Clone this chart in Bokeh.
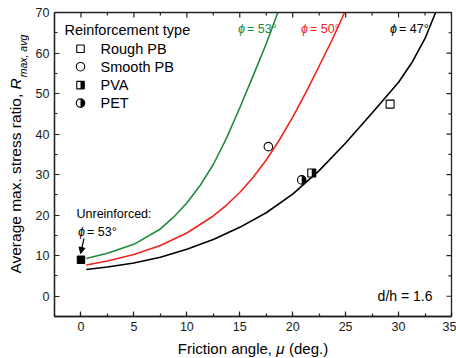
from math import pi
from bokeh.plotting import figure
from bokeh.layouts import row, column
from bokeh.models import (Range1d, LinearAxis, SingleIntervalTicker, Label,
                          Arrow, NormalHead, ColumnDataSource)
from bokeh.transform import dodge
from bokeh.embed import file_html
from bokeh.resources import INLINE

# ---------------- data ----------------
mu_47 = [0.5, 2.5, 5, 7.5, 10, 12.5, 15, 17.5, 20, 22.5, 25, 27.5, 30, 31.25, 32.5, 33.5]
R_47 = [6.6, 7.2, 8.2, 9.6, 11.6, 14.0, 17.0, 20.6, 25.2, 31.0, 37.8, 45.2, 52.8, 57.6, 63.6, 70.0]
mu_50 = [0.5, 2.5, 5, 7.5, 10, 12.5, 13.75, 15, 16.25, 17.5, 18.75, 20, 21.25, 22.5, 23.75, 24.9]
R_50 = [7.7, 8.7, 10.3, 12.5, 15.6, 19.8, 22.5, 25.6, 29.3, 33.6, 38.6, 44.2, 50.3, 56.8, 63.4, 70.0]
mu_53 = [0.5, 2.5, 5, 7.5, 8.75, 10, 11.25, 12.5, 13.75, 15, 16.25, 17.5, 18.6]
R_53 = [9.3, 10.6, 12.8, 16.6, 19.5, 23.0, 27.3, 32.5, 39.0, 46.5, 54.3, 62.3, 70.0]

types = ["Rough PB", "Smooth PB", "PVA", "PET"]
mu_pts = [29.2, 17.7, 21.8, 20.85]
R_pts = [47.4, 36.9, 30.4, 28.7]
mu_unreinf = [0.0]
R_unreinf = [9.0]

x_ticks = [0, 5, 10, 15, 20, 25, 30, 35]
y_ticks = [0, 10, 20, 30, 40, 50, 60, 70]
X_LO, X_HI = -2.5, 35
Y_LO, Y_HI = -5, 70

GREEN = "#1e8b3c"
RED = "#f0241c"
AXC = "#222222"
FONT = "Liberation Sans"

# ---------------- layout ----------------
WIN_W, WIN_H = 456, 358
WL = 30                 # width of the y-title strip
HB = 20                 # height of the x-title strip
MW, MH = WIN_W - WL, WIN_H - HB
BL, BT = 24, 12
FW, FH = 397, 304
BR, BB = MW - BL - FW, MH - BT - FH
PAGE_L, PAGE_B = WL + BL, BT + FH
STRIP_DY = 17.5         # measured vertical offset of the y-title strip in the row


def sx(px):
    return px - PAGE_L


def sy(py):
    return PAGE_B - py


AW = {' ': 278, 'A': 667, 'v': 500, 'e': 556, 'r': 333, 'a': 556, 'g': 556, 'm': 833,
      'x': 500, '.': 278, 's': 500, 't': 278, 'i': 222, 'o': 556, ',': 278, 'R': 722,
      'F': 611, 'c': 500, 'n': 556, 'l': 222, '(': 333, ')': 333, 'd': 556, 'μ': 576}


def tw(s, size):
    return sum(AW.get(c, 556) for c in s) * size / 1000.0


p = figure(width=MW, height=MH, x_range=Range1d(X_LO, X_HI), y_range=Range1d(Y_LO, Y_HI),
           output_backend="svg", toolbar_location=None,
           x_axis_type=None, y_axis_type=None,
           min_border_left=BL, min_border_right=BR, min_border_top=BT, min_border_bottom=BB)
p.outline_line_color = AXC
p.outline_line_width = 1.3
p.background_fill_color = "white"
p.border_fill_color = "white"
p.extra_x_ranges = {"px": Range1d(0, FW)}
p.extra_y_ranges = {"py": Range1d(0, FH)}


def make_axis(interval):
    ax = LinearAxis(ticker=SingleIntervalTicker(interval=interval, num_minor_ticks=2))
    ax.axis_line_width = 1.3
    ax.axis_line_color = AXC
    ax.major_tick_line_color = AXC
    ax.minor_tick_line_color = AXC
    ax.major_tick_line_width = 1.2
    ax.minor_tick_line_width = 1.2
    ax.major_tick_in = 5
    ax.major_tick_out = 0
    ax.minor_tick_in = 3
    ax.minor_tick_out = 0
    ax.major_label_text_font = FONT
    ax.major_label_text_font_size = "12.5px"
    ax.major_label_text_color = "#1a1a1a"
    ax.major_label_standoff = 5
    return ax


p.add_layout(make_axis(5), "below")
p.add_layout(make_axis(10), "left")

# mirrored ticks on the top and right edges (half of each dash is clipped by the frame)
x_minor = [(a + b) / 2 for a, b in zip(x_ticks[:-1], x_ticks[1:])]
y_minor = [(a + b) / 2 for a, b in zip(y_ticks[:-1], y_ticks[1:])]
p.scatter(x_ticks, [Y_HI] * len(x_ticks), marker="dash", angle=pi / 2, size=10,
          line_color=AXC, line_width=1.2)
p.scatter(x_minor, [Y_HI] * len(x_minor), marker="dash", angle=pi / 2, size=6,
          line_color=AXC, line_width=1.2)
p.scatter([X_HI] * len(y_ticks), y_ticks, marker="dash", size=10,
          line_color=AXC, line_width=1.2)
p.scatter([X_HI] * len(y_minor), y_minor, marker="dash", size=6,
          line_color=AXC, line_width=1.2)

# ---------------- curves ----------------
p.line(mu_53, R_53, line_color=GREEN, line_width=1.6)
p.line(mu_50, R_50, line_color=RED, line_width=1.6)
p.line(mu_47, R_47, line_color="black", line_width=1.6)

# ---------------- data points ----------------
p.scatter(mu_pts[0:1], R_pts[0:1], marker="square", size=8, fill_color="white",
          line_color="black", line_width=1.1)
p.scatter(mu_pts[1:2], R_pts[1:2], marker="circle", size=8.5, fill_color="white",
          line_color="black", line_width=1.1)
pva = ColumnDataSource(dict(x=mu_pts[2:3], y=R_pts[2:3]))
p.scatter("x", "y", source=pva, marker="square", size=8, fill_color="white",
          line_color="black", line_width=1.1)
p.rect(x=dodge("x", 2.0 * (X_HI - X_LO) / FW), y="y", source=pva, width=4, height=8,
       width_units="screen", height_units="screen", fill_color="black", line_color=None)
p.scatter(mu_pts[3:4], R_pts[3:4], marker="circle", size=8.5, fill_color="white",
          line_color="black", line_width=1.1)
p.wedge(mu_pts[3:4], R_pts[3:4], radius=4.25, radius_units="screen",
        start_angle=-pi / 2, end_angle=pi / 2, fill_color="black", line_color=None)
p.scatter(mu_unreinf, R_unreinf, marker="square", size=7.5, fill_color="black",
          line_color="black")

# ---------------- legend (manual) ----------------
leg_x = sx(80)
leg_rows = [sy(48.3), sy(66.2), sy(84.6), sy(102.6)]
p.scatter([leg_x], [leg_rows[0]], x_range_name="px", y_range_name="py", marker="square",
          size=7.5, fill_color="white", line_color="black", line_width=1.1)
p.scatter([leg_x], [leg_rows[1]], x_range_name="px", y_range_name="py", marker="circle",
          size=8.5, fill_color="white", line_color="black", line_width=1.1)
p.scatter([leg_x], [leg_rows[2]], x_range_name="px", y_range_name="py", marker="square",
          size=7.5, fill_color="white", line_color="black", line_width=1.1)
p.rect([leg_x + 1.9], [leg_rows[2]], width=3.8, height=7.5, x_range_name="px",
       y_range_name="py", fill_color="black", line_color=None)
p.scatter([leg_x], [leg_rows[3]], x_range_name="px", y_range_name="py", marker="circle",
          size=8.5, fill_color="white", line_color="black", line_width=1.1)
p.wedge([leg_x], [leg_rows[3]], radius=4.25, radius_units="screen",
        x_range_name="px", y_range_name="py",
        start_angle=-pi / 2, end_angle=pi / 2, fill_color="black", line_color=None)


def lab(fig, text, x, y, size, color="black", align="left", baseline="middle",
        style="normal", angle=0.0):
    fig.add_layout(Label(text=text, x=x, y=y, x_units="screen", y_units="screen",
                         text_font=FONT, text_font_size=size, text_color=color,
                         text_align=align, text_baseline=baseline,
                         text_font_style=style, angle=angle))


lab(p, "Reinforcement type", sx(64), sy(29.3), "14.5px")
for name, yy in zip(types, leg_rows):
    lab(p, name, sx(100), yy, "14.5px")

# ---------------- curve labels ----------------
for xsep, col, txt in [(244.5, GREEN, "= 53°"), (307.5, RED, "= 50°"), (396.5, "black", "= 47°")]:
    lab(p, "ϕ", sx(xsep), sy(28), "12.5px", color=col, align="right", style="italic")
    lab(p, txt, sx(xsep + 2), sy(28), "12.5px", color=col)

lab(p, "Unreinforced:", sx(76), sy(213), "12.5px")
lab(p, "ϕ", sx(84.5), sy(231), "12.5px", align="right", style="italic")
lab(p, "= 53°", sx(86.5), sy(231), "12.5px")
p.add_layout(Arrow(end=NormalHead(size=6, fill_color="black", line_color="black", line_width=1),
                   x_start=sx(83.5), y_start=sy(238), x_end=sx(80.2), y_end=sy(253),
                   start_units="screen", end_units="screen", line_width=1.2, line_color="black"))

lab(p, "d/h = 1.6", sx(432), sy(295.5), "14px", align="right")


def strip(w, h):
    f = figure(width=w, height=h, x_range=Range1d(0, w), y_range=Range1d(0, h),
               output_backend="svg", toolbar_location=None,
               x_axis_type=None, y_axis_type=None, min_border=0)
    f.outline_line_color = None
    f.background_fill_color = "white"
    f.border_fill_color = "white"
    return f


# ---------------- y title strip ----------------
ys = strip(WL, MH)
YS, SS = 15.5, 10.5
ya, yb, ysub = "Average max. stress ratio,", "R", "max, avg"
r_start = MH - 93.5 - STRIP_DY
lab(ys, ya, 15, r_start - tw(" ", YS), f"{YS}px", align="right", angle=pi / 2)
lab(ys, yb, 15, r_start, f"{YS}px", style="italic", angle=pi / 2)
lab(ys, ysub, 22, r_start + tw(yb, YS) + 1, f"{SS}px", style="italic", angle=pi / 2)

# ---------------- x title strip ----------------
xs = strip(WIN_W, HB)
XS = 15
xa, xm, xc = "Friction angle,", "μ", "(deg.)"
sp = tw(" ", XS)
tot = tw(xa, XS) + sp + tw(xm, XS) + sp + tw(xc, XS)
x0 = 252.5 - tot / 2
xl_y = WIN_H - 348
lab(xs, xa, x0, xl_y, f"{XS}px")
lab(xs, xm, x0 + tw(xa, XS) + sp, xl_y, f"{XS}px", style="italic")
lab(xs, xc, x0 + tw(xa, XS) + sp + tw(xm, XS) + sp, xl_y, f"{XS}px")

layout = column(row(ys, p), xs)
open("out.html", "w").write(file_html(layout, INLINE))
